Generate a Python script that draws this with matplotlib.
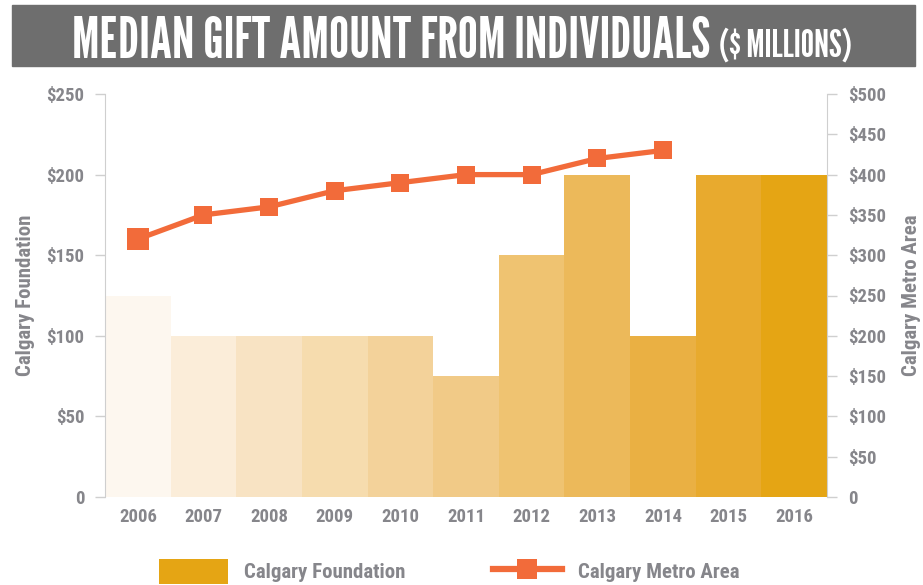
import matplotlib
matplotlib.use('Agg')
import matplotlib.pyplot as plt
from matplotlib.patches import Rectangle, Patch
from matplotlib.lines import Line2D

years = ['2006', '2007', '2008', '2009', '2010', '2011', '2012', '2013', '2014', '2015', '2016']
foundation = [125, 100, 100, 100, 100, 75, 150, 200, 100, 200, 200]
metro_years = ['2006', '2007', '2008', '2009', '2010', '2011', '2012', '2013', '2014']
metro = [320, 350, 360, 380, 390, 400, 400, 420, 430]
bar_colors = ['#FDF7EF', '#FBEDD9', '#F8E3C3', '#F6DCAE', '#F3D29A', '#F1CA87',
              '#EFC371', '#ECB95A', '#EAB043', '#E8AA2E', '#E5A514']

FONT = ['Roboto Condensed', 'DejaVu Sans']
TITLE_FONT = ['League Gothic', 'DejaVu Sans']
GRAY = '#86868B'
ORANGE = '#F26B3A'
plt.rcParams['font.family'] = FONT

fig = plt.figure(figsize=(9.23, 5.85), dpi=100)
ax = fig.add_axes([105 / 923, 1 - 497 / 585, (827 - 105) / 923, (497 - 94) / 585])

x = list(range(len(years)))
ax.bar(x, foundation, width=1.0, color=bar_colors, linewidth=0)
ax.set_xlim(-0.5, len(years) - 0.5)
ax.set_ylim(0, 250)
ax.set_yticks([0, 50, 100, 150, 200, 250])
ax.set_yticklabels(['0', '$50', '$100', '$150', '$200', '$250'])
ax.set_xticks(x)
ax.set_xticklabels(years)

ax2 = ax.twinx()
mx = [years.index(y) for y in metro_years]
ax2.plot(mx, metro, color=ORANGE, linewidth=3.8, marker='s', markersize=12.5,
         markeredgewidth=0)
ax2.plot(mx[:1], metro[:1], color=ORANGE, marker='s', markersize=16, markeredgewidth=0,
         linestyle='none')
ax2.set_ylim(0, 500)
ax2.set_yticks(range(0, 501, 50))
ax2.set_yticklabels(['0'] + ['$%d' % v for v in range(50, 501, 50)])

for a in (ax, ax2):
    for s in ('top', 'bottom'):
        a.spines[s].set_visible(False)
    a.spines['left'].set_color('#CFCFCF')
    a.spines['right'].set_color('#CFCFCF')
    a.tick_params(axis='y', colors='#CFCFCF', length=7, width=1, pad=8,
                  labelcolor=GRAY, labelsize=13.5)
    for lbl in a.get_yticklabels():
        lbl.set_fontweight('bold')
ax.spines['right'].set_visible(False)
ax2.spines['left'].set_visible(False)
ax.tick_params(axis='x', length=0, pad=8, labelcolor=GRAY, labelsize=13.5)
for lbl in ax.get_xticklabels():
    lbl.set_fontweight('bold')

ax.set_ylabel('Calgary Foundation', color=GRAY, fontsize=15, fontweight='bold', labelpad=8)
ax2.set_ylabel('Calgary Metro Area', color=GRAY, fontsize=15, fontweight='bold',
               rotation=90, labelpad=12)

# title banner
fig.patches.append(Rectangle((12 / 923, 1 - 66 / 585), 903 / 923, 61 / 585,
                             transform=fig.transFigure, color='#6E6E6E', zorder=0))
t1 = fig.text(72 / 923, 1 - 58 / 585, 'MEDIAN GIFT AMOUNT FROM INDIVIDUALS', color='white',
              fontsize=41, family=TITLE_FONT, ha='left', va='baseline')
r = fig.canvas.get_renderer()
bb = t1.get_window_extent(r)
fig.text((bb.x1 + 9) / 923, 1 - 57 / 585, '($ MILLIONS)', color='white', fontsize=27,
         family=TITLE_FONT, ha='left', va='baseline')

handles = [Patch(color='#E5A514', linewidth=0),
           Line2D([], [], color=ORANGE, linewidth=4.5, marker='s', markersize=15,
                  markeredgewidth=0)]
fig.legend(handles, ['Calgary Foundation', 'Calgary Metro Area'], loc='upper left',
           bbox_to_anchor=(140 / 923, 1 - 540 / 585), ncol=2, frameon=False,
           handlelength=3.3, handleheight=1.5, columnspacing=4.2, handletextpad=0.8,
           prop={'family': FONT, 'size': 15, 'weight': 'bold'}, labelcolor=GRAY)

fig.savefig('out.png', dpi=100)
